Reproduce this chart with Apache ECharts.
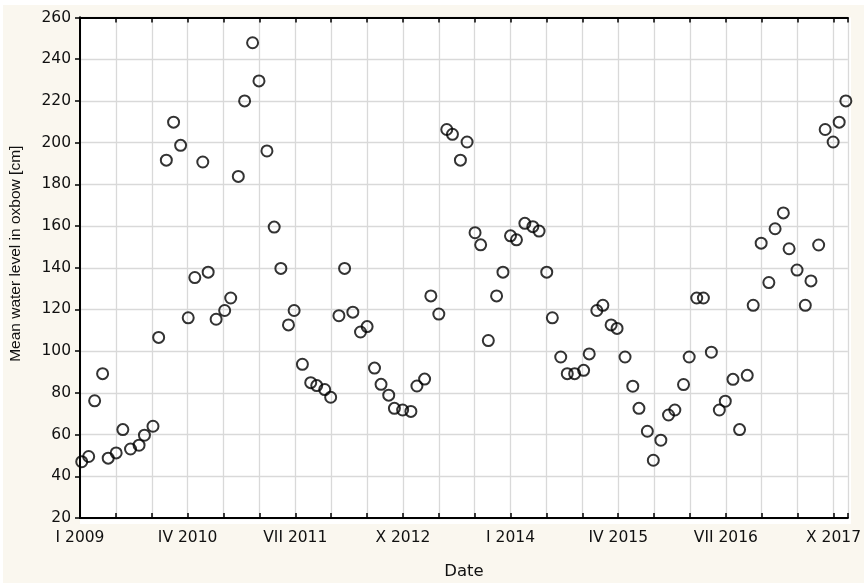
<!DOCTYPE html>
<html>
<head>
<meta charset="utf-8">
<script src="https://cdn.jsdelivr.net/npm/echarts@6/dist/echarts.min.js"></script>
<style>
html,body{margin:0;padding:0;background:#ffffff;}
#chart{width:864px;height:585px;}
</style>
</head>
<body>
<div id="chart"></div>
<script>
// Months elapsed since the start of January 2009
const monthPositions = [
  0.24, 1.21, 2.04, 3.15, 3.93, 5.04, 5.97, 7.04, 8.23, 8.98, 10.17, 10.96,
  12.03, 13.04, 14.02, 15.08, 16.00, 17.11, 17.86, 18.97, 20.16, 21.00, 22.06, 22.94,
  24.05, 24.94, 26.05, 27.06, 27.99, 29.05, 29.84, 30.99, 32.15, 32.99, 34.10, 34.93,
  36.08, 36.87, 38.02, 39.09, 40.01, 41.04, 41.95, 43.02, 43.81, 44.96, 46.11, 46.95,
  48.02, 48.89, 50.00, 51.11, 51.90, 53.01, 53.94, 55.05, 55.83, 56.90, 58.05, 58.94,
  59.99, 60.82, 61.99, 63.10, 63.97, 65.04, 65.82, 66.99, 67.90, 68.93, 70.18, 70.96,
  72.02, 72.86, 74.01, 74.84, 75.95, 77.03, 77.89, 79.06, 79.89, 80.94, 82.01, 82.89,
  84.10, 84.89, 85.94, 86.87, 87.98, 89.09, 89.92, 90.99, 91.91, 92.98, 93.81, 94.92,
  95.99, 96.86, 98.01, 98.81, 99.92, 101.07, 101.86, 102.93, 103.84, 104.95, 105.79, 106.72
];
// Mean water level in oxbow [cm]
const waterLevels = [
  47.0, 49.5, 76.2, 89.2, 48.7, 51.2, 62.4, 53.1, 54.9, 59.7, 64.0, 106.6,
  191.6, 209.8, 198.7, 116.0, 135.3, 190.7, 137.9, 115.3, 119.5, 125.5, 183.8, 220.0,
  247.9, 229.6, 196.0, 159.5, 139.7, 112.6, 119.5, 93.7, 84.9, 83.5, 81.6, 77.9,
  117.0, 139.7, 118.7, 109.2, 111.8, 91.9, 84.1, 78.9, 72.6, 71.8, 71.1, 83.3,
  86.6, 126.5, 117.8, 206.3, 204.0, 191.6, 200.3, 156.8, 151.0, 105.1, 126.5, 137.9,
  155.3, 153.4, 161.3, 159.7, 157.6, 137.9, 116.0, 97.2, 89.2, 89.2, 90.8, 98.7,
  119.5, 122.0, 112.6, 110.9, 97.2, 83.2, 72.6, 61.6, 47.7, 57.3, 69.4, 71.8,
  84.0, 97.2, 125.5, 125.5, 99.5, 71.8, 76.0, 86.5, 62.4, 88.4, 122.0, 151.8,
  132.9, 158.7, 166.3, 149.1, 138.9, 122.0, 133.7, 150.9, 206.3, 200.3, 209.8, 220.0
];
// Date tick labels, every 15 months starting January 2009
const dateTickMonths = [0, 15, 30, 45, 60, 75, 90, 105];
const dateTickLabels = ['I 2009', 'IV 2010', 'VII 2011', 'X 2012', 'I 2014', 'IV 2015', 'VII 2016', 'X 2017'];

const points = monthPositions.map((m, i) => [m, waterLevels[i]]);
const labelFor = {};
dateTickMonths.forEach((m, i) => { labelFor[m] = dateTickLabels[i]; });

const chart = echarts.init(document.getElementById('chart'), null, {renderer: 'canvas'});
const txt = '#111111';
const wideFont = '"DejaVu Sans", sans-serif';
const narrowFont = '"Liberation Sans", Arial, sans-serif';
const frame = {show: true, lineStyle: {color: '#000', width: 2}};
const grid = {show: true, lineStyle: {color: '#d9d9d9', width: 1.3}};
const inTick = {show: true, inside: true, length: 5, lineStyle: {color: '#000', width: 1.5}};

chart.setOption({
  animation: false,
  backgroundColor: '#ffffff',
  graphic: [{
    type: 'rect', z: -10, silent: true,
    shape: {x: 3, y: 5, width: 861, height: 578},
    style: {fill: '#faf7ef'}
  }, {
    type: 'rect', z: -9, silent: true,
    shape: {x: 80, y: 17.5, width: 771, height: 506.5},
    style: {fill: '#ffffff'}
  }],
  grid: {left: 80, right: 13, top: 17.5, bottom: 61},
  xAxis: [{
    type: 'value', min: 0, max: 107, interval: 5, position: 'bottom',
    axisLine: frame,
    axisTick: inTick,
    splitLine: grid,
    axisLabel: {
      color: txt, fontFamily: wideFont, fontSize: 15.5, margin: 12,
      formatter: v => (labelFor[v] !== undefined ? labelFor[v] : '')
    },
    name: 'Date', nameLocation: 'middle', nameGap: 45,
    nameTextStyle: {color: txt, fontFamily: wideFont, fontSize: 16.5}
  }, {
    type: 'value', min: 0, max: 107, interval: 5, position: 'top',
    axisLine: frame,
    axisTick: inTick,
    splitLine: {show: false},
    axisLabel: {show: false}
  }],
  yAxis: [{
    type: 'value', min: 20, max: 260, interval: 20, position: 'left',
    axisLine: frame,
    axisTick: {show: false},
    splitLine: grid,
    axisLabel: {color: txt, fontFamily: wideFont, fontSize: 15.5, margin: 9},
    name: 'Mean water level in oxbow [cm]', nameLocation: 'middle', nameGap: 56,
    nameTextStyle: {color: txt, fontFamily: narrowFont, fontSize: 15.5, padding: [0, 0, 0, 28]}
  }, {
    type: 'value', min: 20, max: 260, interval: 20, position: 'right',
    axisLine: frame,
    axisTick: inTick,
    splitLine: {show: false},
    axisLabel: {show: false}
  }],
  series: [{
    type: 'scatter',
    xAxisIndex: 0, yAxisIndex: 0,
    data: points,
    symbol: 'circle',
    symbolSize: 11,
    clip: false,
    itemStyle: {color: 'rgba(0,0,0,0)', borderColor: '#000', borderWidth: 2}
  }]
});
</script>
</body>
</html>
